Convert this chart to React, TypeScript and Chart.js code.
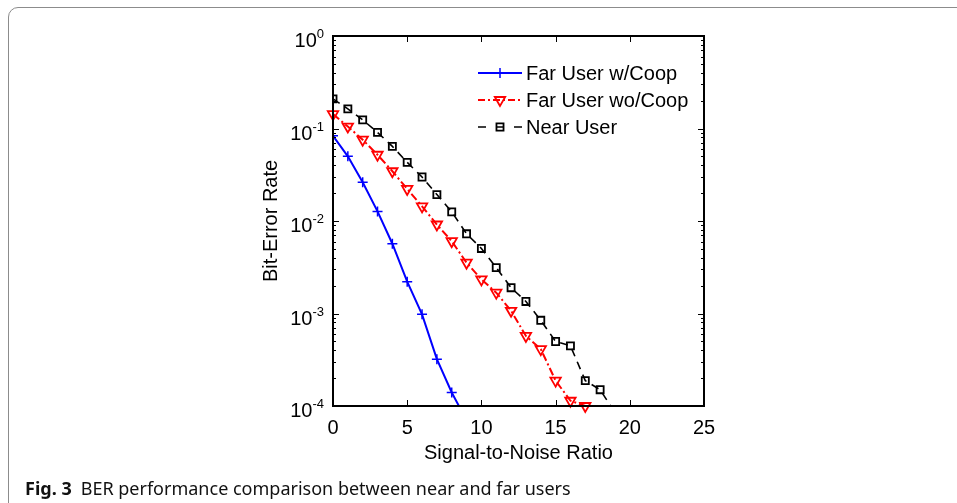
import React, { useEffect, useRef } from "react";
import { Chart, registerables } from "chart.js";
import { drawPoint } from "chart.js/helpers";

Chart.register(...registerables);

const FONT = "'Liberation Sans', Arial, Helvetica, sans-serif";

// ---- data ----
const seriesLabels = ["Far User w/Coop", "Far User wo/Coop", "Near User"];

const farCoopSnr = [0, 1, 2, 3, 4, 5, 6, 7, 8, 9];
const farCoopBer = [0.0835, 0.05, 0.0262, 0.0127, 0.00568, 0.00221, 0.00098, 0.000321, 0.00014, 0.00007];

const farNoCoopSnr = [0, 1, 2, 3, 4, 5, 6, 7, 8, 9, 10, 11, 12, 13, 14, 15, 16, 17];
const farNoCoopBer = [
  0.143, 0.105, 0.0757, 0.052, 0.0345, 0.0222, 0.0144, 0.00916, 0.00605, 0.00354,
  0.00234, 0.00168, 0.00107, 0.000572, 0.000412, 0.000188, 0.000114, 0.0001,
];

const nearSnr = [0, 1, 2, 3, 4, 5, 6, 7, 8, 9, 10, 11, 12, 13, 14, 15, 16, 17, 18, 19];
const nearBer = [
  0.209, 0.163, 0.124, 0.0907, 0.0641, 0.0431, 0.0299, 0.0193, 0.01256, 0.00727,
  0.00505, 0.00313, 0.0019, 0.00135, 0.000845, 0.000498, 0.000447, 0.000188, 0.00015, 0.000085,
];

const xTicks = [0, 5, 10, 15, 20, 25];
const yTicks = [1, 0.1, 0.01, 0.001, 0.0001];
const yExponents = ["0", "-1", "-2", "-3", "-4"];
const minorMultipliers = [2, 3, 4, 5, 6, 7, 8, 9];

const xTitle = "Signal-to-Noise Ratio";
const yTitle = "Bit-Error Rate";
const captionBold = "Fig. 3";
const captionText = "BER performance comparison between near and far users";

export default function App() {
  const ref = useRef<HTMLCanvasElement>(null);

  useEffect(() => {
    if (!ref.current) return;
    const toXY = (xs: number[], ys: number[]) => xs.map((x, i) => ({ x, y: ys[i] }));

    const axesPlugin = {
      id: "matlabAxes",
      afterDatasetsDraw(chart: any) {
        const { ctx, chartArea: a, scales } = chart;
        const xs = scales.x;
        const ys = scales.y;
        ctx.save();
        ctx.strokeStyle = "#000";
        ctx.setLineDash([]);
        // ticks
        ctx.lineWidth = 1;
        ctx.beginPath();
        for (const t of xTicks) {
          const px = Math.round(xs.getPixelForValue(t)) + 0.5;
          ctx.moveTo(px, a.bottom);
          ctx.lineTo(px, a.bottom - 6);
          ctx.moveTo(px, a.top);
          ctx.lineTo(px, a.top + 6);
        }
        for (const t of yTicks) {
          const py = Math.round(ys.getPixelForValue(t)) + 0.5;
          ctx.moveTo(a.left, py);
          ctx.lineTo(a.left + 6, py);
          ctx.moveTo(a.right, py);
          ctx.lineTo(a.right - 6, py);
          if (t < 1) {
            for (const m of minorMultipliers) {
              const pm = Math.round(ys.getPixelForValue(t * m)) + 0.5;
              ctx.moveTo(a.left, pm);
              ctx.lineTo(a.left + 3, pm);
              ctx.moveTo(a.right, pm);
              ctx.lineTo(a.right - 3, pm);
            }
          }
        }
        ctx.stroke();
        // box
        ctx.lineWidth = 2;
        ctx.strokeRect(a.left, a.top, a.right - a.left, a.bottom - a.top);

        // y tick labels 10^n
        ctx.fillStyle = "#000";
        ctx.textBaseline = "alphabetic";
        ctx.textAlign = "left";
        const rightEdge = a.left - 9;
        yTicks.forEach((t, i) => {
          const py = ys.getPixelForValue(t);
          ctx.font = `13px ${FONT}`;
          const ew = ctx.measureText(yExponents[i]).width;
          ctx.fillText(yExponents[i], rightEdge - ew, py + 2);
          ctx.font = `20px ${FONT}`;
          const bw = ctx.measureText("10").width;
          ctx.fillText("10", rightEdge - ew - bw, py + 11);
        });

        // legend
        const lx1 = 478;
        const lx2 = 522;
        const ly0 = 73;
        const lgap = 27;
        chart.data.datasets.forEach((ds: any, i: number) => {
          const y = ly0 + i * lgap;
          ctx.strokeStyle = ds.borderColor;
          ctx.lineWidth = ds.borderWidth;
          ctx.setLineDash(ds.legendDash || []);
          ctx.beginPath();
          ctx.moveTo(lx1, y);
          ctx.lineTo(lx2, y);
          ctx.stroke();
          ctx.setLineDash([]);
          ctx.lineWidth = ds.pointBorderWidth;
          ctx.strokeStyle = ds.borderColor;
          ctx.fillStyle = "rgba(0,0,0,0)";
          drawPoint(
            ctx,
            {
              pointStyle: ds.pointStyle,
              rotation: ds.pointRotation || 0,
              radius: ds.pointRadius,
              borderWidth: ds.pointBorderWidth,
            },
            (lx1 + lx2) / 2,
            y
          );
          ctx.fillStyle = "#000";
          ctx.font = `20px ${FONT}`;
          ctx.textBaseline = "middle";
          ctx.textAlign = "left";
          ctx.fillText(ds.label, lx2 + 4, y + 1);
        });
        ctx.restore();
      },
    };

    const chart = new Chart(ref.current, {
      type: "line",
      data: {
        datasets: [
          {
            label: seriesLabels[0],
            data: toXY(farCoopSnr, farCoopBer),
            borderColor: "#0000ff",
            backgroundColor: "rgba(0,0,0,0)",
            borderWidth: 2,
            pointStyle: "cross",
            pointRadius: 5,
            pointBorderWidth: 1.5,
            pointBorderColor: "#0000ff",
            pointBackgroundColor: "rgba(0,0,0,0)",
            legendDash: [],
          } as any,
          {
            label: seriesLabels[1],
            data: toXY(farNoCoopSnr, farNoCoopBer),
            borderColor: "#ff0000",
            backgroundColor: "rgba(0,0,0,0)",
            borderWidth: 2,
            borderDash: [8, 3, 2, 3],
            pointStyle: "triangle",
            pointRotation: 180,
            pointRadius: 6,
            pointBorderWidth: 1.8,
            pointBorderColor: "#ff0000",
            pointBackgroundColor: "rgba(0,0,0,0)",
            clip: false,
            legendDash: [7, 3, 2, 3],
          } as any,
          {
            label: seriesLabels[2],
            data: toXY(nearSnr, nearBer),
            borderColor: "#000000",
            backgroundColor: "rgba(0,0,0,0)",
            borderWidth: 1.6,
            borderDash: [8, 6],
            pointStyle: "rect",
            pointRadius: 5,
            pointBorderWidth: 1.8,
            pointBorderColor: "#000000",
            pointBackgroundColor: "rgba(0,0,0,0)",
            legendDash: [8, 10],
          } as any,
        ],
      },
      options: {
        animation: false,
        responsive: true,
        maintainAspectRatio: false,
        devicePixelRatio: 1,
        layout: { padding: { top: 36, right: 253, left: 0, bottom: 0 } },
        plugins: { legend: { display: false }, tooltip: { enabled: false } },
        elements: { line: { tension: 0 } },
        scales: {
          x: {
            type: "linear",
            min: 0,
            max: 25,
            position: "bottom",
            grid: { display: false, drawTicks: false },
            border: { display: false },
            ticks: {
              stepSize: 5,
              color: "#000",
              font: { family: FONT, size: 20 },
              padding: 10,
              maxRotation: 0,
            },
            title: {
              display: true,
              text: xTitle,
              color: "#000",
              font: { family: FONT, size: 20 },
              padding: { top: 0, bottom: 38 },
            },
            afterFit: (s: any) => {
              s.height = 97;
              s.paddingLeft = 0;
              s.paddingRight = 0;
            },
          },
          y: {
            type: "logarithmic",
            min: 0.0001,
            max: 1,
            position: "left",
            grid: { display: false, drawTicks: false },
            border: { display: false },
            ticks: { display: false },
            title: {
              display: true,
              text: yTitle,
              color: "#000",
              font: { family: FONT, size: 20 },
              padding: { top: 259, bottom: 0 },
            },
            afterFit: (s: any) => {
              s.width = 333;
              s.paddingTop = 0;
              s.paddingBottom = 0;
            },
          },
        },
      } as any,
      plugins: [axesPlugin],
    });
    return () => chart.destroy();
  }, []);

  return (
    <div
      style={{
        position: "absolute",
        left: 0,
        top: 0,
        width: 957,
        height: 503,
        overflow: "hidden",
        background: "#fff",
      }}
    >
      <div
        style={{
          position: "absolute",
          left: 8,
          top: 7,
          width: 1000,
          height: 560,
          border: "1px solid #8c8c8c",
          borderRadius: 10,
          boxSizing: "border-box",
        }}
      />
      <div style={{ position: "absolute", left: 0, top: 0, width: 957, height: 503 }}>
        <canvas ref={ref} />
      </div>
      <div
        style={{
          position: "absolute",
          left: 25,
          top: 477,
          fontFamily: "'Noto Sans', 'Open Sans', sans-serif",
          fontSize: 18,
          lineHeight: "22px",
          color: "#111",
          whiteSpace: "nowrap",
        }}
      >
        <span style={{ fontWeight: 700, marginRight: 9 }}>{captionBold}</span>
        <span>{captionText}</span>
      </div>
    </div>
  );
}
